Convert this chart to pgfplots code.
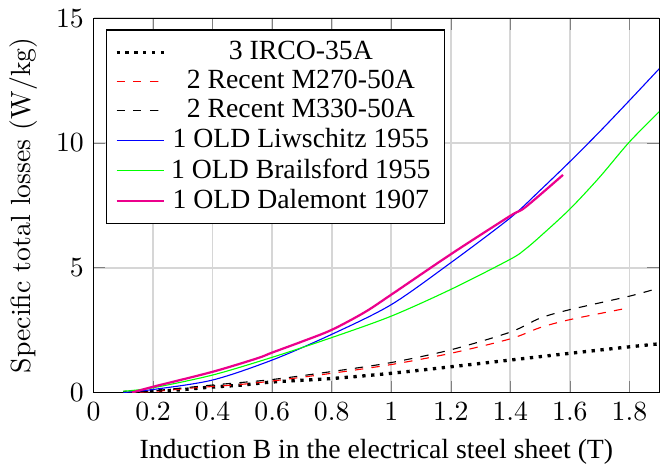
\documentclass[border=0pt]{standalone}
\usepackage{pgfplots}
\pgfplotsset{compat=1.18}
\usepackage{fontspec}
\setmainfont{Liberation Serif}
\newfontfamily\lmfont{Latin Modern Roman}
\definecolor{mymag}{RGB}{236,0,140}
\begin{document}
\begin{tikzpicture}
\begin{axis}[
  scale only axis,
  width=204pt, height=135pt,
  xmin=0, xmax=1.9, ymin=0, ymax=15,
  xtick={0,0.2,0.4,0.6,0.8,1,1.2,1.4,1.6,1.8},
  ytick={0,5,10,15},
  grid=major,
  major grid style={black!16, line width=0.6pt},
  xlabel={Induction B in the electrical steel sheet (T)},
  ylabel={\lmfont Specific total losses (W/kg)},
  legend style={at={(0.022,0.97)}, anchor=north west, font=\normalsize, row sep=-1.6pt},
  legend cell align=center,
]
\addplot[black, very thick, dotted, smooth] coordinates {
(0.1,0) (0.17,0.05) (0.27,0.09) (0.34,0.16) (0.4,0.22) (0.5,0.3) (0.6,0.42) (0.8,0.56) (1.0,0.77) (1.2,1.03) (1.4,1.3) (1.6,1.57) (1.8,1.83) (1.9,1.95)};
\addlegendentry{3 IRCO-35A}
\addplot[red, dashed, smooth] coordinates {
(0.1,0) (0.2,0.04) (0.33,0.18) (0.4,0.24) (0.5,0.33) (0.6,0.46) (0.8,0.77) (1.0,1.12) (1.2,1.57) (1.4,2.15) (1.5,2.6) (1.6,2.92) (1.78,3.35)};
\addlegendentry{2 Recent M270-50A}
\addplot[black, dashed, smooth] coordinates {
(0.1,0) (0.2,0.07) (0.4,0.3) (0.6,0.52) (0.8,0.84) (1.0,1.2) (1.2,1.71) (1.4,2.42) (1.5,2.98) (1.6,3.32) (1.8,3.86) (1.9,4.19)};
\addlegendentry{2 Recent M330-50A}
\addplot[blue, smooth] coordinates {
(0.1,0) (0.2,0.12) (0.4,0.5) (0.6,1.3) (0.8,2.33) (1.0,3.52) (1.2,5.2) (1.4,7.0) (1.5,8.1) (1.6,9.25) (1.7,10.45) (1.8,11.7) (1.9,12.97)};
\addlegendentry{1 OLD Liwschitz 1955}
\addplot[green, smooth] coordinates {
(0.1,0.05) (0.2,0.19) (0.4,0.70) (0.6,1.41) (0.8,2.2) (1.0,3.06) (1.2,4.13) (1.4,5.34) (1.45,5.74) (1.5,6.25) (1.6,7.35) (1.7,8.63) (1.8,10.04) (1.9,11.25)};
\addlegendentry{1 OLD Brailsford 1955}
\addplot[mymag, thick, smooth] coordinates {
(0.13,0) (0.2,0.23) (0.4,0.83) (0.55,1.37) (0.6,1.6) (0.7,2.04) (0.8,2.51) (0.91,3.21) (1.0,3.92) (1.2,5.54) (1.4,7.08) (1.45,7.42) (1.577,8.72)};
\addlegendentry{1 OLD Dalemont 1907}
\end{axis}
\end{tikzpicture}
\end{document}
